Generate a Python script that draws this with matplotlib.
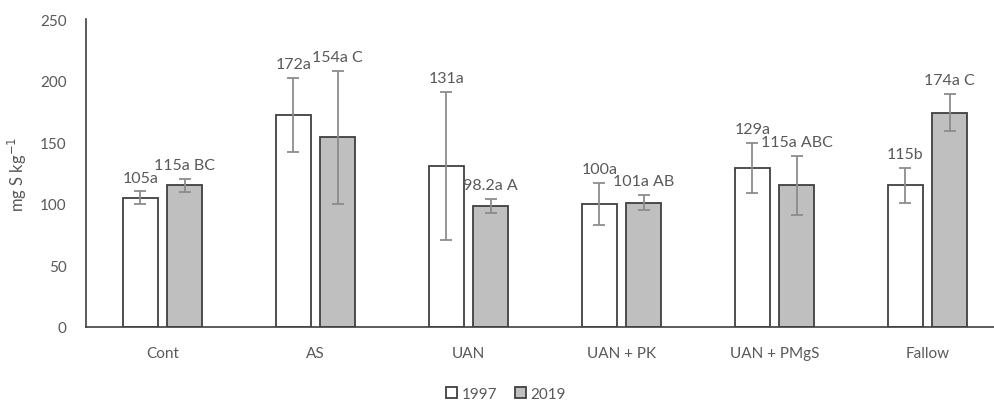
import numpy as np
import matplotlib.pyplot as plt

plt.rcParams['font.family'] = ['Lato', 'DejaVu Sans']

categories = ['Cont', 'AS', 'UAN', 'UAN + PK', 'UAN + PMgS', 'Fallow']
vals_1997 = [105, 172, 131, 100, 129, 115]
vals_2019 = [115, 154, 98.2, 101, 115, 174]
err_1997 = [5, 30, 60, 17, 20, 14]
err_2019 = [5.5, 54, 6, 6, 24, 15]
labels_1997 = ['105a', '172a', '131a', '100a', '129a', '115b']
labels_2019 = ['115a BC', '154a C', '98.2a A', '101a AB', '115a ABC', '174a C']

text_col = '#595959'
fig = plt.figure(figsize=(9.94, 4.06), dpi=100)
ax = fig.add_axes([86 / 994, 78 / 406, 918 / 994, 308 / 406])

x = np.arange(len(categories))
w = 0.229
off = 0.144

ax.bar(x - off, vals_1997, w, color='white', edgecolor='#404040', linewidth=1.3,
       label='1997', zorder=2)
ax.bar(x + off, vals_2019, w, color='#bfbfbf', edgecolor='#404040', linewidth=1.3,
       label='2019', zorder=2)
ax.errorbar(x - off, vals_1997, yerr=err_1997, fmt='none', ecolor='#8c8c8c',
            elinewidth=1.3, capsize=4, capthick=1.3, zorder=3)
ax.errorbar(x + off, vals_2019, yerr=err_2019, fmt='none', ecolor='#8c8c8c',
            elinewidth=1.3, capsize=4, capthick=1.3, zorder=3)

# labels above the error bar tops
for i in range(len(categories)):
    ax.annotate(labels_1997[i], (x[i] - off, vals_1997[i] + err_1997[i]),
                xytext=(0, 5), textcoords='offset points', ha='center', va='bottom',
                fontsize=11.5, color=text_col)
    ax.annotate(labels_2019[i], (x[i] + off, vals_2019[i] + err_2019[i]),
                xytext=(0, 5), textcoords='offset points', ha='center', va='bottom',
                fontsize=11.5, color=text_col)

ax.set_xlim(-0.5, len(categories) - 0.5)
ax.set_ylim(0, 250)
ax.set_yticks(np.arange(0, 251, 50))
ax.set_xticks(x)
ax.set_xticklabels(categories)
ax.tick_params(axis='both', length=0, labelsize=11, labelcolor=text_col)
ax.tick_params(axis='y', pad=14)
ax.tick_params(axis='x', pad=14)
for s in ['top', 'right']:
    ax.spines[s].set_visible(False)
for s in ['left', 'bottom']:
    ax.spines[s].set_color('#404040')
    ax.spines[s].set_linewidth(1.2)

ax.set_ylabel('mg S kg$^{-1}$', fontsize=12, color=text_col, labelpad=8)

fig.legend(loc='center', bbox_to_anchor=(506 / 994, 1 - 395 / 406), ncol=2,
           frameon=False, fontsize=11, labelcolor=text_col, handlelength=0.7,
           handleheight=0.7, handletextpad=0.3, columnspacing=1.2)

fig.savefig('out.png', dpi=100)
